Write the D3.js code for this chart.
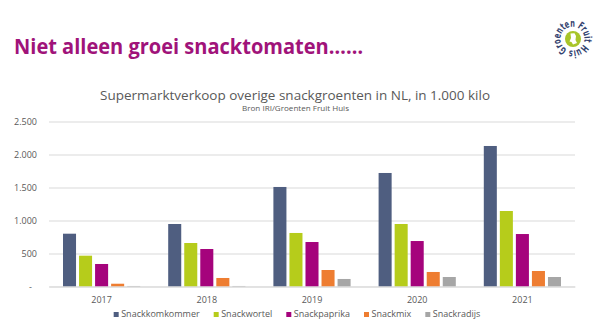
<!DOCTYPE html>
<html>
<head>
<meta charset="utf-8">
<script src="https://cdn.jsdelivr.net/npm/d3@7"></script>
<style>
  body { margin: 0; background: #fff; }
  svg { display: block; font-family: "Open Sans", sans-serif; }
</style>
</head>
<body>
<div id="container"></div>
<script>
const width = 600,
  height = 334,
  margin = { top: 121.5, bottom: 47.5, left: 49, right: 25 };

// sales per year, in 1.000 kilo
const years = ["2017", "2018", "2019", "2020", "2021"];
const series = ["Snackkomkommer", "Snackwortel", "Snackpaprika", "Snackmix", "Snackradijs"];
const colors = ["#4f5e80", "#b6cc1b", "#a5037c", "#ee7d31", "#a6a6a6"];
const komkommer = [800, 947, 1508, 1720, 2129];
const wortel = [467, 659, 811, 947, 1144];
const paprika = [341, 568, 674, 689, 795];
const mix = [42, 129, 250, 220, 235];
const radijs = [8, 8, 114, 144, 144];
const yTicks = [0, 500, 1000, 1500, 2000, 2500];

const values = [komkommer, wortel, paprika, mix, radijs];
const data = years.map((y, i) => ({
  year: y,
  bars: series.map((s, j) => ({ key: s, value: values[j][i], color: colors[j] }))
}));

const nl = d3.formatLocale({ decimal: ",", thousands: ".", grouping: [3], currency: ["€", ""] });
const fmt = nl.format(",");

const svg = d3.select("#container")
  .append("svg")
  .attr("width", width)
  .attr("height", height);

// slide heading
svg.append("text")
  .attr("x", 14)
  .attr("y", 54)
  .attr("textLength", 349)
  .attr("lengthAdjust", "spacingAndGlyphs")
  .style("font-family", "'Open Sans', sans-serif")
  .style("font-weight", "700")
  .style("font-size", "22px")
  .style("fill", "#a0137a")
  .text("Niet alleen groei snacktomaten……");

// logo: green disc with text running round it
const logo = svg.append("g").attr("transform", "translate(573,39)");
logo.append("circle").attr("r", 8).style("fill", "#a8c52a");
logo.append("path")
  .attr("d", "M-2.5,-5.5 L1.5,-5.8 L3,-3 L2.5,1 L4,4 L0,5.5 L-1.5,3 L-3.5,2.5 L-2,-1 Z")
  .style("fill", "#fff");
logo.append("path")
  .attr("id", "logoRing")
  .attr("d", "M-6,10.4 A12,12 0 1,1 -5.9,10.45")
  .style("fill", "none");
logo.append("text")
  .style("font-family", "'Liberation Sans Narrow', 'DejaVu Sans Condensed', sans-serif")
  .style("font-size", "10.5px")
  .style("font-weight", "700")
  .style("fill", "#33426f")
  .append("textPath")
  .attr("href", "#logoRing")
  .attr("textLength", 72)
  .attr("lengthAdjust", "spacingAndGlyphs")
  .text("Groenten Fruit Huis");

// chart title and source
svg.append("text")
  .attr("x", 295)
  .attr("y", 100)
  .attr("text-anchor", "middle")
  .attr("textLength", 390)
  .attr("lengthAdjust", "spacingAndGlyphs")
  .style("font-size", "13px")
  .style("fill", "#595959")
  .text("Supermarktverkoop overige snackgroenten in NL, in 1.000 kilo");

svg.append("text")
  .attr("x", 295.5)
  .attr("y", 111)
  .attr("text-anchor", "middle")
  .attr("textLength", 107)
  .attr("lengthAdjust", "spacingAndGlyphs")
  .style("font-size", "6.5px")
  .style("fill", "#595959")
  .text("Bron IRI/Groenten Fruit Huis");

const x0 = d3.scaleBand()
  .domain(years)
  .range([margin.left, width - margin.right]);

const x1 = d3.scaleBand()
  .domain(series)
  .range([14, x0.bandwidth() - 14])
  .paddingInner(0.1875);

const yScale = d3.scaleLinear()
  .domain([0, 2500])
  .range([height - margin.bottom, margin.top]);

// gridlines + y labels
const yAxisGroup = svg.append("g")
  .attr("transform", `translate(${margin.left},0)`)
  .call(d3.axisLeft(yScale)
    .tickValues(yTicks)
    .tickSize(-(width - margin.left - margin.right))
    .tickPadding(12)
    .tickFormat(d => d === 0 ? "-" : fmt(d)));

yAxisGroup.select(".domain").remove();
yAxisGroup.selectAll(".tick line").attr("stroke", "#d9d9d9");
yAxisGroup.selectAll(".tick text")
  .style("font-family", "'Open Sans', sans-serif")
  .style("font-size", "9px")
  .style("fill", "#595959")
  .filter(d => d === 0)
  .attr("x", -17);

// bars
const groups = svg.selectAll("g.year")
  .data(data)
  .join("g")
  .attr("class", "year")
  .attr("transform", d => `translate(${x0(d.year)},0)`);

groups.selectAll("rect")
  .data(d => d.bars)
  .join("rect")
  .attr("x", d => x1(d.key))
  .attr("y", d => yScale(d.value))
  .attr("width", x1.bandwidth())
  .attr("height", d => yScale(0) - yScale(d.value))
  .style("fill", d => d.color);

// x axis
const xAxisGroup = svg.append("g")
  .attr("transform", `translate(0,${height - margin.bottom})`)
  .call(d3.axisBottom(x0).tickSize(0).tickPadding(10));

xAxisGroup.select(".domain").attr("stroke", "#d9d9d9");
xAxisGroup.selectAll(".tick text")
  .style("font-family", "'Open Sans', sans-serif")
  .style("font-size", "9px")
  .style("fill", "#595959");

// legend
const legend = svg.append("g").attr("transform", "translate(0,317)");
const items = legend.selectAll("g")
  .data(series)
  .join("g");

items.append("rect")
  .attr("y", -5)
  .attr("width", 5)
  .attr("height", 5)
  .style("fill", (d, i) => colors[i]);

items.append("text")
  .attr("x", 7.5)
  .style("font-size", "9px")
  .style("fill", "#595959")
  .text(d => d);

let cursor = 0;
const offsets = [];
items.each(function () {
  offsets.push(cursor);
  cursor += 7.5 + d3.select(this).select("text").node().getComputedTextLength() + 14;
});
const total = cursor - 14;
const start = 297 - total / 2;
items.attr("transform", (d, i) => `translate(${start + offsets[i]},0)`);
</script>
</body>
</html>
